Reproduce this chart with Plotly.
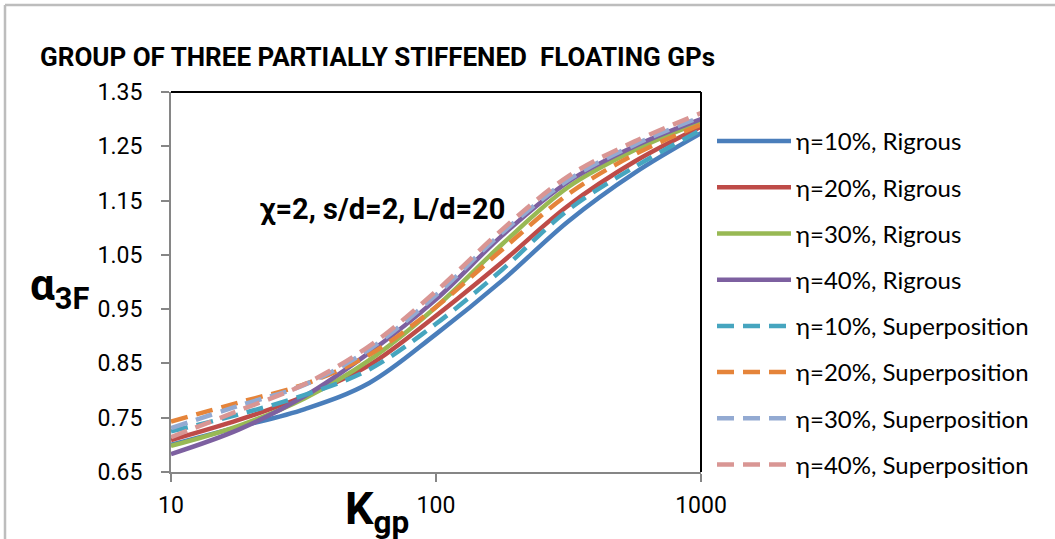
import plotly.graph_objects as go

# ---------------- data ----------------
k_gp = [10, 18, 32, 56, 100, 178, 316, 562, 1000]

rig_10 = [0.700, 0.733, 0.766, 0.814, 0.904, 1.003, 1.112, 1.201, 1.274]
rig_20 = [0.709, 0.746, 0.790, 0.847, 0.938, 1.037, 1.141, 1.222, 1.286]
rig_30 = [0.698, 0.735, 0.786, 0.856, 0.954, 1.070, 1.175, 1.243, 1.295]
rig_40 = [0.683, 0.728, 0.790, 0.870, 0.968, 1.086, 1.185, 1.250, 1.300]
sup_10 = [0.725, 0.756, 0.792, 0.839, 0.923, 1.023, 1.133, 1.212, 1.280]
sup_20 = [0.743, 0.778, 0.812, 0.866, 0.954, 1.060, 1.162, 1.235, 1.290]
sup_30 = [0.731, 0.772, 0.811, 0.876, 0.976, 1.091, 1.188, 1.253, 1.304]
sup_40 = [0.714, 0.763, 0.812, 0.882, 0.983, 1.097, 1.195, 1.259, 1.311]

series_names = [
    "η=10%, Rigrous", "η=20%, Rigrous", "η=30%, Rigrous", "η=40%, Rigrous",
    "η=10%, Superposition", "η=20%, Superposition", "η=30%, Superposition", "η=40%, Superposition",
]
series_values = [rig_10, rig_20, rig_30, rig_40, sup_10, sup_20, sup_30, sup_40]
series_colors = ["#4A7EBB", "#BE4B48", "#98B954", "#7D60A0",
                 "#46A5BF", "#E5843A", "#93AAD2", "#D99694"]
series_dash = ["solid"] * 4 + ["17px,9px"] * 4

y_ticks = [0.65, 0.75, 0.85, 0.95, 1.05, 1.15, 1.25, 1.35]
x_ticks = [10, 100, 1000]

title_text = "GROUP OF THREE PARTIALLY STIFFENED  FLOATING GPs"
note_text = "χ=2, s/d=2, L/d=20"

# ---------------- figure ----------------
fig = go.Figure()
for i, (name, vals, col, dsh) in enumerate(zip(series_names, series_values, series_colors, series_dash)):
    fig.add_trace(go.Scatter(
        x=k_gp, y=vals, mode="lines", name=name,
        line=dict(color=col, width=4.5, dash=dsh, shape="spline", smoothing=1.0),
        legendgroup=f"g{i}",
    ))

W, H = 1055, 539
L, T = 171, 92
pw, ph = 530, 380
R, B = W - L - pw, H - T - ph


def px_x(p):  # screen pixel -> paper x
    return (p - L) / pw


def px_y(p):  # screen pixel -> paper y
    return (T + ph - p) / ph


fig.update_layout(
    width=W, height=H,
    margin=dict(l=L, r=R, t=T, b=B),
    paper_bgcolor="white", plot_bgcolor="white",
    showlegend=True,
    legend=dict(
        x=px_x(712), xanchor="left", y=px_y(119), yanchor="top",
        font=dict(family="Lato, Open Sans, sans-serif", size=24, color="#000000"),
        tracegroupgap=12, itemwidth=74, bgcolor="rgba(0,0,0,0)",
        maxheight=900,
    ),
    xaxis=dict(
        type="log", range=[1, 3], tickvals=x_ticks, ticktext=[str(v) for v in x_ticks],
        showgrid=False, zeroline=False, showline=True, linecolor="#868686", linewidth=2,
        ticks="outside", ticklen=8, tickwidth=2, tickcolor="#868686",
        tickfont=dict(family="Roboto, sans-serif", size=23, color="#000000"),
        ticklabelstandoff=3,
    ),
    yaxis=dict(
        range=[0.65, 1.35], tickvals=y_ticks, ticktext=[f"{v:.2f}" for v in y_ticks],
        showgrid=False, zeroline=False, showline=True, linecolor="#868686", linewidth=2,
        ticks="outside", ticklen=8, tickwidth=2, tickcolor="#868686",
        tickfont=dict(family="Roboto, sans-serif", size=23, color="#000000"),
        ticklabelstandoff=14,
    ),
)

# plot-area border (top and right black)
fig.add_shape(type="line", xref="paper", yref="paper", x0=0, x1=1, y0=1, y1=1,
              line=dict(color="#000000", width=2), layer="above")
fig.add_shape(type="line", xref="paper", yref="paper", x0=1, x1=1, y0=0, y1=1,
              line=dict(color="#000000", width=2), layer="above")

# outer chart border (left and top visible)
fig.add_shape(type="line", xref="paper", yref="paper",
              x0=px_x(5), x1=px_x(5), y0=px_y(545), y1=px_y(5),
              line=dict(color="#BDBDBD", width=2.5), layer="above")
fig.add_shape(type="line", xref="paper", yref="paper",
              x0=px_x(5), x1=px_x(1060), y0=px_y(5), y1=px_y(5),
              line=dict(color="#BDBDBD", width=2.5), layer="above")

# title
fig.add_annotation(xref="paper", yref="paper", x=px_x(38), y=px_y(57),
                   xanchor="left", yanchor="middle", showarrow=False,
                   text=f"<b>{title_text}</b>",
                   font=dict(family="Roboto, sans-serif", size=26, color="#000000"))
# parameter note
fig.add_annotation(xref="paper", yref="paper", x=px_x(382), y=px_y(209),
                   xanchor="center", yanchor="middle", showarrow=False,
                   text=f"<b>{note_text}</b>",
                   font=dict(family="Roboto, sans-serif", size=29, color="#000000"))
# y-axis title
fig.add_annotation(xref="paper", yref="paper", x=px_x(59), y=px_y(288),
                   xanchor="center", yanchor="middle", showarrow=False,
                   text="<b>α<sub>3F</sub></b>",
                   font=dict(family="Roboto, sans-serif", size=44, color="#000000"))
# x-axis title
fig.add_annotation(xref="paper", yref="paper", x=px_x(377), y=px_y(512),
                   xanchor="center", yanchor="middle", showarrow=False,
                   text="<b>K<sub>gp</sub></b>",
                   font=dict(family="Roboto, sans-serif", size=45, color="#000000"))

fig.write_html(
    "out.html",
    config={"displayModeBar": False},
    post_script="document.body.style.margin='0px';document.body.style.overflow='hidden';",
)
